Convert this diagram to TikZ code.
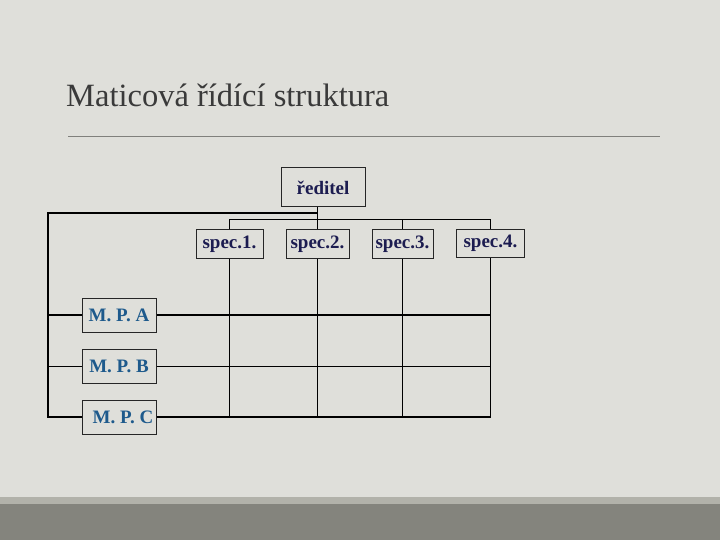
\documentclass[tikz,border=0pt]{standalone}
\usepackage{fontspec}
\setmainfont{Liberation Serif}
\definecolor{bg}{RGB}{223,223,218}
\definecolor{bandlight}{RGB}{178,178,170}
\definecolor{banddark}{RGB}{132,132,125}
\definecolor{titlec}{RGB}{58,58,58}
\definecolor{navy}{RGB}{28,28,80}
\definecolor{mpblue}{RGB}{30,90,140}
\definecolor{rulec}{RGB}{128,128,124}
\tikzset{
  boxbase/.style={draw=black!85, line width=1pt, fill=bg, inner sep=0pt, font=\fontsize{19}{19}\selectfont\bfseries},
  headbox/.style={boxbase, text=navy},
  mpbox/.style={boxbase, text=mpblue, minimum width=74pt, minimum height=34pt},
  gridline/.style={draw=black, line width=1.1pt},
}
\begin{document}
\begin{tikzpicture}[x=1pt,y=-1pt]
\useasboundingbox (0,0) rectangle (720,540);
\fill[bg] (0,0) rectangle (720,540);
\fill[bandlight] (0,497) rectangle (720,504);
\fill[banddark] (0,504) rectangle (720,540);
% title
\node[anchor=base west, inner sep=0pt, text=titlec, font=\fontsize{32.5}{32.5}\selectfont] (title) at (66,107) {Maticová řídící struktura};
\draw[rulec, line width=0.9pt] (68,136) -- (660,136);
% nodes
\node[headbox, minimum width=84pt, minimum height=39pt] (dir) at (323,187.5) {ředitel};
\node[headbox, minimum width=67pt, minimum height=28pt] (s1) at (229.5,244) {spec.1.};
\node[headbox, minimum width=63pt, minimum height=28pt] (s2) at (317.5,244) {spec.2.};
\node[headbox, minimum width=61pt, minimum height=28pt] (s3) at (402.5,244) {spec.3.};
\node[headbox, minimum width=68pt, minimum height=28pt] (s4) at (490.5,243.5) {spec.4.};
\node[mpbox] (mpa) at (119,315) {M. P. A};
\node[mpbox] (mpb) at (119,366.5) {M. P. B};
\node[mpbox] (mpc) at (119,417) {\hspace{8pt}M. P. C};
\coordinate (tl) at (48,213);
\coordinate (bl) at (48,417);
\coordinate (br) at (490.5,417);
\coordinate (hb) at (317.5,219.5);
% connectors
\draw[gridline] (s2.north |- dir.south) -- (s2.north);
\draw[gridline] (s2.north |- tl) -- (tl) -- (bl) -- (mpc.west);
\draw[gridline] (mpc.east) -- (br);
\draw[gridline] (s1.north) |- (hb) -| (s4.north);
\draw[gridline] (s3.north) -- (s3.north |- hb);
\draw[gridline] (s1.south) -- (s1.south |- bl);
\draw[gridline] (s2.south) -- (s2.south |- bl);
\draw[gridline] (s3.south) -- (s3.south |- bl);
\draw[gridline] (s4.south) -- (br);
\draw[gridline] (mpa.west -| tl) -- (mpa.west);
\draw[gridline] (mpa.east) -- (mpa.east -| br);
\draw[gridline] (mpb.west -| tl) -- (mpb.west);
\draw[gridline] (mpb.east) -- (mpb.east -| br);
\end{tikzpicture}
\end{document}
